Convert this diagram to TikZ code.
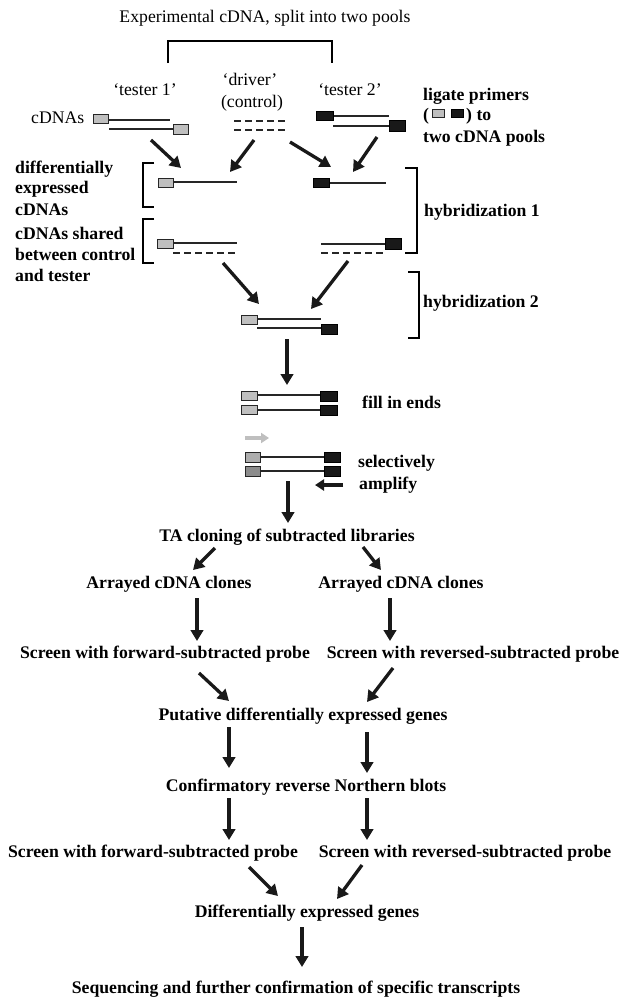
\documentclass[tikz,border=0pt]{standalone}
\usepackage{fontspec}
\setmainfont{Liberation Serif}
\usetikzlibrary{arrows.meta}
\begin{document}
\begin{tikzpicture}[x=1pt,y=-1pt,
  txt/.style={inner sep=0pt, font=\fontsize{17.7}{21}\selectfont},
  btxt/.style={inner sep=0pt, font=\fontsize{17.7}{21}\selectfont\bfseries},
  big/.style={line width=3.3pt, draw=black!90, -{Triangle[length=11pt,width=12.5pt]}},
  strand/.style={line width=1.1pt, draw=black!85},
  dstrand/.style={strand, dash pattern=on 7pt off 4pt},
  gbox/.style={draw=black!85, line width=1pt, fill=black!25},
  bbox/.style={draw=black, line width=1pt, fill=black!90},
  brk/.style={line width=1.5pt}
]
\useasboundingbox (0,0) rectangle (621,997);

% ---------- top texts ----------
\node[txt, anchor=base] (title) at (265,22) {Experimental cDNA, split into two pools};
\draw[brk] (168,63) -- (168,41) -- (332,41) -- (332,63);
\node[txt, anchor=base] (t1) at (145,95) {‘tester 1’};
\node[txt, anchor=base] (drv) at (250,85) {‘driver’};
\node[txt, anchor=base] (ctl) at (252,107) {(control)};
\node[txt, anchor=base] (t2) at (350,95) {‘tester 2’};
\node[txt, anchor=base west] (cdnas) at (31,123) {cDNAs};

\node[btxt, anchor=base west] (lig1) at (423,100) {ligate primers};
\node[btxt, anchor=base west] (lig2) at (423,120) {(};
\draw[gbox] (432,109) rectangle (444,117);
\draw[bbox] (451,109) rectangle (463,117);
\node[btxt, anchor=base west] (lig3) at (466,120) {) to};
\node[btxt, anchor=base west] (lig4) at (423,142) {two cDNA pools};

% ---------- tester 1 ----------
\draw[strand] (108,120) -- (170,120);
\draw[strand] (109,129) -- (173,129);
\draw[gbox] (93,114) rectangle (108,123);
\draw[gbox] (173,124) rectangle (188,134);
% ---------- driver ----------
\draw[dstrand] (234,121) -- (287,121);
\draw[dstrand] (234,130) -- (287,130);
% ---------- tester 2 ----------
\draw[strand] (333,116) -- (389,116);
\draw[strand] (333,126) -- (389,126);
\draw[bbox] (316,111) rectangle (333,120);
\draw[bbox] (389,120) rectangle (405,131);

% ---------- first arrows ----------
\coordinate (a1s) at (151,140); \coordinate (a1e) at (181,168);
\coordinate (a2s) at (254,140); \coordinate (a2e) at (230,172);
\coordinate (a3s) at (290,142); \coordinate (a3e) at (331,167);
\coordinate (a4s) at (377,137); \coordinate (a4e) at (353,172);
\draw[big] (a1s) -- (a1e);
\draw[big] (a2s) -- (a2e);
\draw[big] (a3s) -- (a3e);
\draw[big] (a4s) -- (a4e);

% ---------- differentially expressed row ----------
\draw[strand] (173,182) -- (237,182);
\draw[gbox] (158,178) rectangle (173,187);
\draw[strand] (329,183) -- (386,183);
\draw[bbox] (313,178) rectangle (329,187);

% ---------- shared row ----------
\draw[strand] (173,243) -- (237,243);
\draw[dstrand] (173,253) -- (238,253);
\draw[gbox] (157,239) rectangle (173,248);
\draw[strand] (321,244) -- (385,244);
\draw[dstrand] (321,253) -- (386,253);
\draw[bbox] (385,238) rectangle (401,249);

% ---------- side labels and brackets ----------
\node[btxt, anchor=base west] (l1) at (15,173) {differentially};
\node[btxt, anchor=base west] (l2) at (15,193) {expressed};
\node[btxt, anchor=base west] (l3) at (15,215) {cDNAs};
\node[btxt, anchor=base west] (l4) at (15,239) {cDNAs shared};
\node[btxt, anchor=base west] (l5) at (15,260) {between control};
\node[btxt, anchor=base west] (l6) at (15,281) {and tester};
\draw[brk] (154,163) -- (143,163) -- (143,207) -- (154,207);
\draw[brk] (154,219) -- (143,219) -- (143,263) -- (154,263);
\draw[brk] (405,168) -- (417,168) -- (417,253) -- (405,253);
\draw[brk] (408,272) -- (419,272) -- (419,338) -- (408,338);
\node[btxt, anchor=base west] (h1) at (424,216) {hybridization 1};
\node[btxt, anchor=base west] (h2) at (423,307) {hybridization 2};

% ---------- second arrows ----------
\coordinate (b1s) at (223,263); \coordinate (b1e) at (259,304);
\coordinate (b2s) at (348,261); \coordinate (b2e) at (311,309);
\draw[big] (b1s) -- (b1e);
\draw[big] (b2s) -- (b2e);

% ---------- hybrid ----------
\draw[strand] (257,319) -- (321,319);
\draw[strand] (257,328) -- (321,328);
\draw[gbox] (241,315) rectangle (257,324);
\draw[bbox] (321,324) rectangle (337,334);

\coordinate (c0s) at (287,339); \coordinate (c0e) at (287,385);
\draw[big] (c0s) -- (c0e);

% ---------- fill in ends ----------
\draw[strand] (257,395) -- (320,395);
\draw[strand] (257,410) -- (320,410);
\draw[gbox] (241,391) rectangle (257,400);
\draw[gbox] (241,405) rectangle (257,414);
\draw[bbox] (320,391) rectangle (337,401);
\draw[bbox] (320,405) rectangle (337,415);
\node[btxt, anchor=base west] (fill) at (362,408) {fill in ends};

% ---------- selectively amplify ----------
\coordinate (gas) at (245,438); \coordinate (gae) at (269,438);
\draw[line width=3.3pt, black!25, -{Triangle[length=8pt,width=10pt]}] (gas) -- (gae);
\draw[strand] (260,457) -- (324,457);
\draw[strand] (260,471) -- (324,471);
\draw[draw=black!85, line width=1pt, fill=black!32] (245,452) rectangle (260,462);
\draw[draw=black!85, line width=1pt, fill=black!45] (245,466) rectangle (260,476);
\draw[bbox] (324,452) rectangle (340,462);
\draw[bbox] (324,466) rectangle (340,476);
\node[btxt, anchor=base west] (sel) at (358,467) {selectively};
\node[btxt, anchor=base west] (amp) at (359,489) {amplify};
\coordinate (kas) at (343,485); \coordinate (kae) at (315,485);
\draw[line width=3.3pt, draw=black!90, -{Triangle[length=9pt,width=11pt]}] (kas) -- (kae);

\coordinate (c1s) at (288,481); \coordinate (c1e) at (288,523);
\draw[big] (c1s) -- (c1e);

% ---------- flow part ----------
\node[btxt, anchor=base] (ta) at (287,541) {TA cloning of subtracted libraries};
\node[btxt, anchor=base] (arrL) at (169,588) {Arrayed cDNA clones};
\node[btxt, anchor=base] (arrR) at (401,588) {Arrayed cDNA clones};
\node[btxt, anchor=base] (scL) at (165,658) {Screen with forward-subtracted probe};
\node[btxt, anchor=base] (scR) at (473,658) {Screen with reversed-subtracted probe};
\node[btxt, anchor=base] (put) at (303,720) {Putative differentially expressed genes};
\node[btxt, anchor=base] (conf) at (306,791) {Confirmatory reverse Northern blots};
\node[btxt, anchor=base] (sc2L) at (153,857) {Screen with forward-subtracted probe};
\node[btxt, anchor=base] (sc2R) at (465,857) {Screen with reversed-subtracted probe};
\node[btxt, anchor=base] (deg) at (307,917) {Differentially expressed genes};
\node[btxt, anchor=base] (seq) at (296,993) {Sequencing and further confirmation of specific transcripts};

\draw[big] (215,548) -- (193,570);
\draw[big] (363,547) -- (381,570);
\draw[big] (197,598) -- (197,641);
\draw[big] (390,598) -- (390,641);
\draw[big] (199,673) -- (229,701);
\draw[big] (393,668) -- (367,702);
\draw[big] (229,727) -- (229,768);
\draw[big] (367,732) -- (367,773);
\draw[big] (229,798) -- (229,840);
\draw[big] (367,798) -- (367,840);
\draw[big] (249,867) -- (278,896);
\draw[big] (362,865) -- (337,899);
\draw[big] (302,927) -- (302,967);
\end{tikzpicture}
\end{document}
